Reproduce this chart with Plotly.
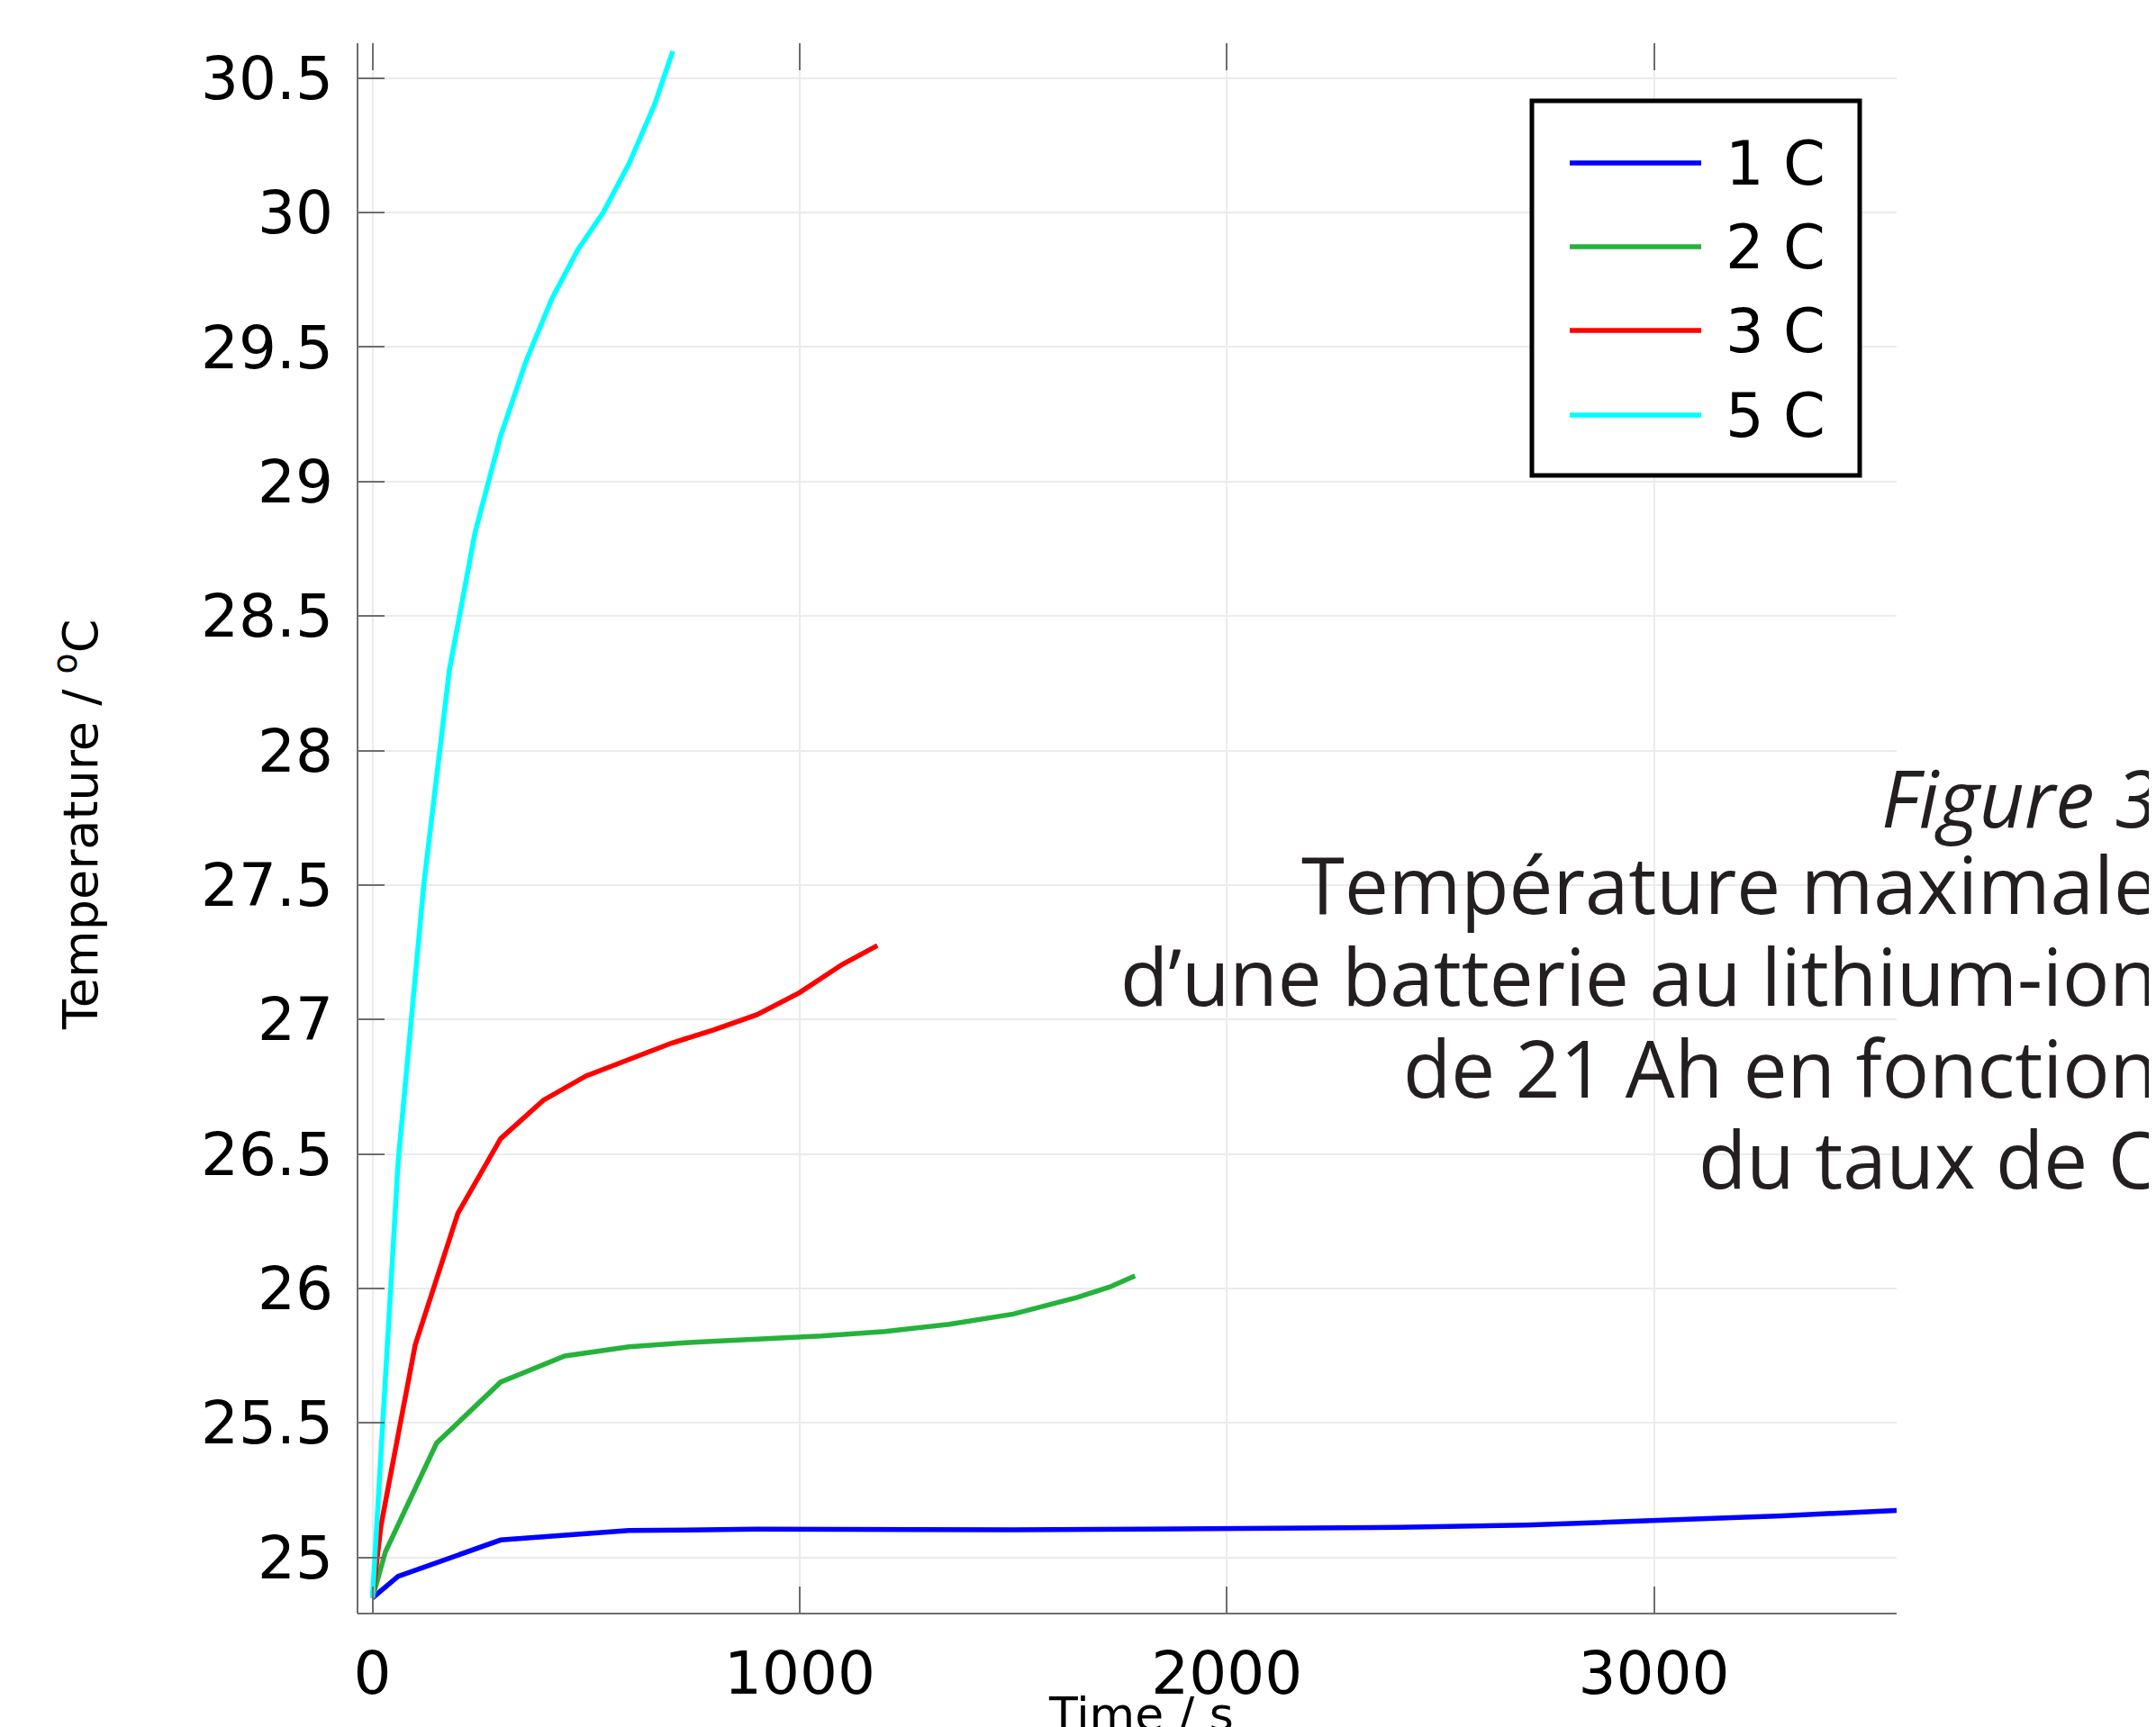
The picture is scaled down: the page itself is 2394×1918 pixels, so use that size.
import plotly.graph_objects as go

# ---------------- data ----------------
series_names = ["1 C", "2 C", "3 C", "5 C"]
series_colors = ["#0000ff", "#25b23b", "#ff0000", "#00ffff"]

t_1C = [0, 60, 300, 600, 900, 1200, 1500, 1800, 2100, 2400, 2700, 3000, 3300, 3568]
T_1C = [24.85, 24.93, 25.065, 25.10, 25.105, 25.103, 25.103, 25.105, 25.108, 25.112, 25.12, 25.137, 25.155, 25.175]

t_2C = [0, 30, 150, 300, 450, 600, 750, 900, 1050, 1200, 1350, 1500, 1650, 1725, 1785]
T_2C = [24.85, 25.02, 25.425, 25.652, 25.749, 25.783, 25.80, 25.81, 25.823, 25.84, 25.867, 25.905, 25.967, 26.005, 26.047]

t_3C = [0, 20, 100, 200, 300, 400, 500, 600, 700, 800, 900, 1000, 1100, 1182]
T_3C = [24.85, 25.12, 25.79, 26.28, 26.557, 26.70, 26.79, 26.852, 26.912, 26.962, 27.018, 27.10, 27.205, 27.275]

t_5C = [0, 12, 60, 120, 180, 240, 300, 360, 420, 480, 540, 600, 660, 703]
T_5C = [24.85, 25.17, 26.47, 27.50, 28.30, 28.81, 29.17, 29.45, 29.68, 29.86, 30.00, 30.18, 30.40, 30.60]

x_tickvals = [0, 1000, 2000, 3000]
x_ticktext = ["0", "1000", "2000", "3000"]
y_tickvals = [25, 25.5, 26, 26.5, 27, 27.5, 28, 28.5, 29, 29.5, 30, 30.5]
y_ticktext = ["25", "25.5", "26", "26.5", "27", "27.5", "28", "28.5", "29", "29.5", "30", "30.5"]

x_title = "Time / s"
y_title = "Temperature / <sup>o</sup>C"
caption_lines = ["<i>Figure 3</i>", "Température maximale", "d’une batterie au lithium-ion",
                 "de 21 Ah en fonction", "du taux de C"]

# ---------------- layout geometry (page pixels) ----------------
W, H = 2394, 1918
OFF = 8  # default page body margin
L, R, T, B = 397, 2106, 48, 1792
pw, ph = R - L, B - T


def px_x(p):
    return (p - L) / pw


def px_y(p):
    return (B - p) / ph


xs = [t_1C, t_2C, t_3C, t_5C]
ys = [T_1C, T_2C, T_3C, T_5C]

fig = go.Figure()
for name, col, x, y in zip(series_names, series_colors, xs, ys):
    fig.add_trace(go.Scatter(x=x, y=y, mode="lines", name=name,
                             line=dict(color=col, width=5.5), showlegend=False))

tickfont = dict(family="DejaVu Sans", size=66, color="black")
fig.update_xaxes(range=[-35, 3568], tickvals=x_tickvals, ticktext=x_ticktext,
                 showgrid=True, gridcolor="#ebebeb", gridwidth=2,
                 zeroline=False, showline=False, ticks="inside", ticklen=30,
                 tickwidth=2, tickcolor="#6e6e6e", mirror="ticks",
                 tickfont=tickfont, ticklabelstandoff=22)
fig.update_yaxes(range=[24.7915, 30.6295], tickvals=y_tickvals, ticktext=y_ticktext,
                 showgrid=True, gridcolor="#ebebeb", gridwidth=2,
                 zeroline=False, showline=False, ticks="inside", ticklen=30,
                 tickwidth=2, tickcolor="#6e6e6e", mirror=False,
                 tickfont=tickfont, ticklabelstandoff=26)

shapes = [
    dict(type="line", xref="paper", yref="paper", x0=0, x1=0, y0=0, y1=1,
         line=dict(color="#6e6e6e", width=2)),
    dict(type="line", xref="paper", yref="paper", x0=0, x1=1, y0=0, y1=0,
         line=dict(color="#6e6e6e", width=2)),
    # legend box
    dict(type="rect", xref="paper", yref="paper",
         x0=px_x(1701), x1=px_x(2065), y0=px_y(528), y1=px_y(112),
         line=dict(color="black", width=5), fillcolor="white"),
]
annotations = []
row_y = [181, 274, 367, 461]
for name, col, ry in zip(series_names, series_colors, row_y):
    shapes.append(dict(type="line", xref="paper", yref="paper",
                       x0=px_x(1743), x1=px_x(1889), y0=px_y(ry), y1=px_y(ry),
                       line=dict(color=col, width=5.5)))
    annotations.append(dict(text=name, xref="paper", yref="paper", x=px_x(1914), y=px_y(ry + 1),
                            xanchor="left", yanchor="middle", showarrow=False,
                            font=dict(family="DejaVu Sans", size=67, color="black")))

# axis titles
annotations.append(dict(text=x_title, xref="paper", yref="paper", x=px_x(1267), y=px_y(1872),
                        xanchor="center", yanchor="top", showarrow=False,
                        font=dict(family="DejaVu Sans", size=52, color="black")))
annotations.append(dict(text=y_title, xref="paper", yref="paper", x=px_x(86), y=px_y(916),
                        xanchor="center", yanchor="middle", textangle=-90, showarrow=False,
                        font=dict(family="DejaVu Sans", size=54, color="black")))

# caption
cap_centers = [885, 981, 1083, 1185, 1286]
for line, cy in zip(caption_lines, cap_centers):
    annotations.append(dict(text=line, xref="paper", yref="paper", x=px_x(2398), y=px_y(cy),
                            xanchor="right", yanchor="middle", align="right", showarrow=False,
                            font=dict(family="Open Sans", size=87, color="#231f20")))

fig.update_layout(width=W, height=H, paper_bgcolor="white", plot_bgcolor="white",
                  margin=dict(l=L - OFF, r=W - R + OFF, t=T - OFF, b=H - B + OFF, autoexpand=False),
                  shapes=shapes, annotations=annotations, showlegend=False)

fig.write_html("out.html")
